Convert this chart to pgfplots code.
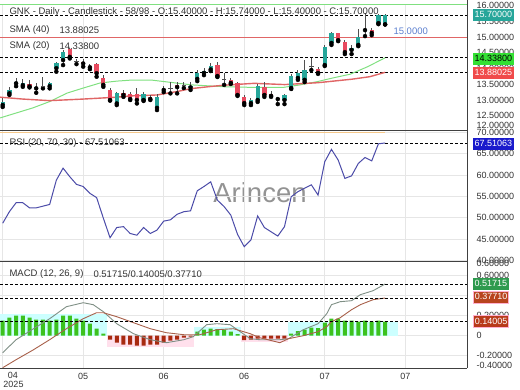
\documentclass[border=0pt]{standalone}
\usepackage{pgfplots}
\usepackage{pgfplotstable}
\pgfplotsset{compat=1.18}
\usepackage{fontspec}
\setmainfont{Liberation Sans}

\definecolor{upcol}{HTML}{26A69A}
\definecolor{dncol}{HTML}{E84A5F}
\definecolor{wickcol}{HTML}{505050}
\definecolor{sma40c}{HTML}{E06666}
\definecolor{sma20c}{HTML}{80E080}
\definecolor{labc}{HTML}{333333}
\definecolor{gridc}{HTML}{E6E6E6}
\definecolor{sepc}{HTML}{404040}
\definecolor{rsic}{HTML}{4B4BA8}
\definecolor{rsibadge}{HTML}{1A1ACC}
\definecolor{orangec}{HTML}{F5C88A}
\definecolor{macdc}{HTML}{7F8F85}
\definecolor{sigc}{HTML}{A8604A}
\definecolor{hgreen}{HTML}{3CC21E}
\definecolor{hred}{HTML}{A82A10}
\definecolor{cyanbg}{HTML}{CCFFFF}
\definecolor{pinkbg}{HTML}{FFE0EC}
\definecolor{bluetxt}{HTML}{5B7FCF}
\definecolor{badgegreen}{HTML}{33E033}
\definecolor{badgered}{HTML}{F04A4A}
\definecolor{mbgreen}{HTML}{2E9A4E}
\definecolor{mbbrown}{HTML}{B8441E}
\definecolor{mbred}{HTML}{B83A1A}
\definecolor{mbpink}{HTML}{FFB0D0}

\pgfplotstableread{
x o h l c
0 12.84 13.06 12.78 12.95
1 13.21 13.42 13.16 13.32
2 13.53 13.69 13.44 13.58
3 13.47 13.66 13.42 13.55
5 13.37 13.53 13.23 13.42
7 13.44 13.58 13.37 13.53
8 14.01 14.22 13.90 14.17
9 14.27 14.59 14.11 14.53
17 12.89 13.26 12.84 13.21
21 13.00 13.25 12.97 13.19
23 12.75 13.19 12.68 13.10
28 13.40 13.57 13.32 13.44
29 13.67 13.95 13.60 13.86
30 13.86 14.02 13.79 13.92
31 13.97 14.17 13.92 14.08
37 12.90 13.06 12.84 13.00
38 13.00 13.51 12.94 13.44
42 13.00 13.19 12.87 13.16
43 13.38 13.83 13.35 13.76
44 13.70 13.95 13.64 13.86
45 13.64 14.27 13.57 13.95
48 14.11 14.75 14.08 14.68
49 14.81 15.16 14.75 15.13
52 14.59 14.75 14.46 14.65
53 14.75 15.25 14.71 15.00
54 15.22 15.76 15.03 15.25
56 15.44 15.73 15.41 15.70
57 15.40 15.74 15.40 15.70
}\uptab

\pgfplotstableread{
x o h l c
4 13.50 13.64 13.40 13.43
10 14.61 14.64 14.32 14.37
12 14.22 14.29 14.06 14.16
13 14.08 14.14 13.98 14.04
14 14.14 14.17 13.74 13.85
15 13.69 13.79 13.42 13.48
16 13.32 13.37 12.98 13.00
18 13.21 13.32 13.10 13.16
19 13.19 13.25 13.00 13.03
20 13.19 13.37 12.89 13.00
22 13.10 13.16 13.00 13.03
24 13.35 13.44 13.25 13.32
26 13.48 13.58 13.21 13.41
32 14.11 14.21 13.73 13.76
34 13.64 13.70 13.51 13.54
35 13.54 13.57 13.13 13.16
36 13.10 13.16 12.84 12.90
39 13.41 13.57 13.10 13.16
40 13.19 13.29 13.10 13.13
41 13.06 13.10 12.87 13.03
47 13.98 14.05 13.83 13.86
50 15.13 15.14 14.87 14.90
51 14.84 14.90 14.46 14.52
55 15.22 15.29 15.06 15.13
}\dntab

\pgfplotstableread{
x o h l c
6 13.42 13.72 13.37 13.42
11 14.22 14.29 14.14 14.22
25 13.35 13.58 13.21 13.35
27 13.45 13.57 13.38 13.45
33 13.64 13.86 13.48 13.64
46 14.05 14.33 13.95 14.05
}\dojitab

\pgfplotstableread{
x v
-0.4 13.09
3 13.03
7 12.98
12 13.03
17 13.09
19 13.13
23 13.16
26 13.27
28 13.36
31 13.43
33 13.47
37.5 13.53
42 13.49
47 13.55
52 13.66
54.7 13.74
57 13.88
}\smaforty

\pgfplotstableread{
x v
-0.4 12.43
4.5 12.75
7 12.95
9.6 13.22
12 13.38
14.5 13.54
17 13.60
19 13.63
22.3 13.63
28.2 13.48
33.1 13.42
37.6 13.40
41.8 13.40
44.3 13.48
46.8 13.58
49.2 13.70
51.8 13.82
54.3 14.05
57 14.34
}\smatwenty

\pgfplotstableread{
x v
0 48.7
1 51.4
2 53.5
3 53.5
4 52.3
5 52.3
6 52.7
7 53.1
8 58.8
9 61.6
10 59.6
11 57.8
12 57.3
13 55.7
14 54.7
15 49.9
16 45.3
17 47.7
18 47.9
19 46.3
20 45.9
21 47.7
22 46.3
23 47.1
24 49.2
25 49.5
26 50.8
27 51.4
28 51.6
29 56.3
30 57.3
31 58.4
32 54.1
33 52.6
34 50.6
35 46.1
36 43.2
37 44.8
38 50.4
39 47.7
40 46.7
41 45.7
42 47.9
43 54.9
44 56.1
45 56.9
46 57.7
47 55.3
48 63.1
49 66.0
50 63.5
51 59.2
52 59.8
53 62.7
54 64.1
55 63.3
56 67.3
57 67.5
}\rsitab

\pgfplotstableread{
x v
0 -0.17
2 -0.04
4.6 0.07
7 0.17
9.5 0.29
12 0.33
13.5 0.31
15 0.24
17 0.12
19.5 0.02
22 -0.04
24.4 -0.07
27 -0.04
28.4 -0.01
30.4 0.11
31.9 0.12
33.9 0.11
35.4 0.04
36.9 -0.03
38.3 -0.04
41.3 -0.04
42.6 -0.03
44.8 0.06
47 0.12
48.3 0.22
49 0.31
50.3 0.34
52 0.35
53.3 0.41
55.2 0.45
57 0.517
}\macdtab

\pgfplotstableread{
x v
0 -0.32
2 -0.24
4.6 -0.14
7 -0.04
9.5 0.07
12 0.17
14 0.23
15 0.23
17 0.19
19.5 0.13
22 0.07
24.4 0.03
27 0.01
29.4 0.01
31.9 0.06
34.4 0.07
36.9 0.02
38.3 -0.02
41.3 -0.07
42.6 -0.03
44.8 0.00
47 0.04
48.3 0.09
49 0.14
50.3 0.18
52 0.26
53.3 0.31
55.2 0.36
57 0.377
}\sigtab

\pgfplotstableread{
x v
0 0.15
1 0.18
2 0.20
3 0.20
4 0.18
5 0.16
6 0.16
7 0.15
8 0.16
9 0.20
10 0.20
11 0.17
12 0.15
13 0.12
14 0.07
15 0.02
29 0.04
30 0.06
31 0.07
32 0.065
33 0.06
34 0.04
35 0.015
43 0.02
44 0.045
45 0.06
46 0.08
47 0.075
48 0.13
49 0.17
50 0.17
51 0.15
52 0.15
53 0.14
54 0.15
55 0.14
56 0.15
57 0.14
}\histpos

\pgfplotstableread{
x v
16 -0.04
17 -0.07
18 -0.09
19 -0.09
20 -0.10
21 -0.10
22 -0.09
23 -0.09
24 -0.07
25 -0.05
26 -0.04
27 -0.02
28 -0.01
36 -0.045
37 -0.04
38 -0.03
39 -0.03
40 -0.03
41 -0.03
42 -0.03
}\histneg

\pgfplotsset{
  panel/.style={
    scale only axis, width=467pt,
    xmin=-0.4, xmax=69.2,
    axis line style={draw=none},
    major tick length=0pt,
    yticklabel pos=right,
    xtick={0,12,24,36,48,60},
    xmajorgrids,
    grid style={color=gridc, line width=0.6pt},
    tick label style={font=\fontsize{9}{10}\selectfont, text=labc},
    /pgf/number format/assume math mode=true,
    yticklabel style={anchor=west, xshift=6pt},
  },
  dashln/.style={black, line width=0.8pt, dash pattern=on 2.5pt off 2.5pt},
  wick/.style={only marks, mark=none, forget plot,
    error bars/.cd, y dir=plus, y explicit, error mark=none,
    error bar style={line width=0.9pt, color=wickcol}},
  body/.style={only marks, mark=none, forget plot,
    error bars/.cd, y dir=plus, y explicit, error mark=none,
    error bar style={line width=4.3pt, color=#1}},
}

\tikzset{badge/.style={anchor=west, inner xsep=1.6pt, inner ysep=1.2pt,
  text height=7pt, text depth=2pt, font=\fontsize{9}{10}\selectfont}}

\begin{document}
\begin{tikzpicture}
\path[use as bounding box] (0pt,0pt) rectangle (520pt,-390pt);

% ---------------- price panel
\begin{axis}[panel, at={(0pt,-4pt)}, anchor=north west, height=126.7pt,
  ymin=12.025, ymax=16.05,
  ytick={12.5,13,13.5,14,14.5,15,15.5,16},
  yticklabels={12.50000,13.00000,13.50000,14.00000,14.50000,15.00000,15.50000,16.00000},
  extra y ticks={12.2}, extra y tick labels={12.00000},
  xticklabels=\empty]
\addplot[sma40c, line width=1pt] coordinates {(-0.4,15) (69.2,15)};
\addplot[dashln] coordinates {(-0.4,15.7) (69.2,15.7)};
\addplot[dashln] coordinates {(-0.4,14.338) (69.2,14.338)};
\addplot[dashln] coordinates {(-0.4,13.88025) (69.2,13.88025)};
\addplot[sma20c, line width=1pt] table[x=x,y=v] {\smatwenty};
\addplot[sma40c, line width=1.4pt] table[x=x,y=v] {\smaforty};
\addplot[wick] table[x=x, y=l, y error expr=\thisrow{h}-\thisrow{l}] {\uptab};
\addplot[wick] table[x=x, y=l, y error expr=\thisrow{h}-\thisrow{l}] {\dntab};
\addplot[wick] table[x=x, y=l, y error expr=\thisrow{h}-\thisrow{l}] {\dojitab};
\addplot[body=upcol] table[x=x, y=o, y error expr=\thisrow{c}-\thisrow{o}] {\uptab};
\addplot[body=dncol] table[x=x, y=c, y error expr=\thisrow{o}-\thisrow{c}] {\dntab};
\addplot[only marks, mark=-, mark size=2.2pt, mark options={line width=1pt, color=wickcol}] table[x=x, y=o] {\dojitab};
\end{axis}

% watermark
\node[anchor=base, text=black!50, opacity=0.85, font=\fontsize{27.5}{30}\selectfont] at (260pt,-203pt) {Arincen};

% ---------------- RSI panel
\begin{axis}[panel, at={(0pt,-130.7pt)}, anchor=north west, height=130.8pt,
  ymin=39.74, ymax=70.37,
  ytick={40,45,50,55,60,65,70},
  yticklabels={40.00000,45.00000,50.00000,55.00000,60.00000,65.00000,70.00000},
  ymajorgrids,
  xticklabels=\empty]
\addplot[orangec, line width=1pt] coordinates {(-0.4,70) (57,70)};
\addplot[dashln] coordinates {(-0.4,67.51063) (69.2,67.51063)};
\addplot[rsic, line width=1pt] table[x=x,y=v] {\rsitab};
\end{axis}

% ---------------- MACD panel
\begin{axis}[panel, at={(0pt,-262pt)}, anchor=north west, height=106.5pt,
  ymin=-0.328, ymax=0.737,
  ytick={-0.2,0,0.2,0.4,0.6},
  yticklabels={-0.20000,0,0.20000,0.40000,0.60000},
  extra y ticks={-0.30,0.727}, extra y tick labels={-0.40000,0.60000},
  extra y tick style={grid=none},
  ymajorgrids,
  xticklabels={,05,06,06,07,07},
  xticklabel style={yshift=-1pt}]
\addplot[fill=cyanbg, draw=none] coordinates {(-0.4,0) (-0.4,0.22) (15.5,0.22) (15.5,0)} -- cycle;
\addplot[fill=pinkbg, draw=none] coordinates {(15.5,0) (15.5,-0.11) (28.5,-0.11) (28.5,0)} -- cycle;
\addplot[fill=cyanbg, draw=none] coordinates {(28.5,0) (28.5,0.09) (35.5,0.09) (35.5,0)} -- cycle;
\addplot[fill=pinkbg, draw=none] coordinates {(35.5,0) (35.5,-0.065) (42.5,-0.065) (42.5,0)} -- cycle;
\addplot[fill=cyanbg, draw=none] coordinates {(42.5,0) (42.5,0.14) (58.9,0.14) (58.9,0)} -- cycle;
\addplot[ybar, bar width=4pt, bar shift=0pt, fill=hgreen, draw=none] table[x=x,y=v] {\histpos};
\addplot[ybar, bar width=4pt, bar shift=0pt, fill=hred, draw=none] table[x=x,y=v] {\histneg};
\addplot[macdc, line width=0.9pt] table[x=x,y=v] {\macdtab};
\addplot[sigc, line width=0.9pt] table[x=x,y=v] {\sigtab};
\addplot[dashln] coordinates {(-0.4,0.51715) (69.2,0.51715)};
\addplot[dashln] coordinates {(-0.4,0.37710) (69.2,0.37710)};
\addplot[dashln] coordinates {(-0.4,0.14005) (69.2,0.14005)};
\end{axis}

% frame lines
\draw[sma20c, line width=1pt] (0pt,-4.3pt) -- (467pt,-4.3pt);
\draw[sepc, line width=1pt] (0pt,-130.7pt) -- (467pt,-130.7pt);
\draw[sepc, line width=1pt] (0pt,-262pt) -- (467pt,-262pt);
\draw[sepc, line width=1pt] (0pt,-368.5pt) -- (467pt,-368.5pt);
\draw[sepc, line width=1pt] (467pt,0pt) -- (467pt,-368.5pt);

% texts
\node[anchor=west, text=labc, font=\fontsize{9.5}{11}\selectfont] at (6pt,-12.5pt)
  {GNK - Daily - Candlestick - 58/98 - O:15.40000 - H:15.74000 - L:15.40000 - C:15.70000};
\node[anchor=west, text=labc, font=\fontsize{9.5}{11}\selectfont] at (6pt,-30pt) {SMA (40)};
\node[anchor=west, text=labc, font=\fontsize{9.5}{11}\selectfont] at (56pt,-30pt) {13.88025};
\node[anchor=west, text=labc, font=\fontsize{9.5}{11}\selectfont] at (6pt,-46.5pt) {SMA (20)};
\node[anchor=west, text=labc, font=\fontsize{9.5}{11}\selectfont] at (56pt,-46.5pt) {14.33800};
\node[anchor=west, text=bluetxt, font=\fontsize{9.5}{11}\selectfont] at (390pt,-31.5pt) {15.0000};
\node[anchor=west, text=labc, font=\fontsize{9.5}{11}\selectfont] at (6pt,-143pt) {RSI (20, 70, 30) - 67.51063};
\node[anchor=west, text=labc, font=\fontsize{9.5}{11}\selectfont] at (6pt,-274pt) {MACD (12, 26, 9)};
\node[anchor=west, text=labc, font=\fontsize{9.5}{11}\selectfont] at (90pt,-274pt) {0.51715/0.14005/0.37710};
\node[text=labc, font=\fontsize{9}{10}\selectfont] at (13pt,-375pt) {04};
\node[text=labc, font=\fontsize{9}{10}\selectfont] at (13.5pt,-384pt) {2025};

% badges
\node[badge, fill=upcol, text=white] at (472.7pt,-15pt) {15.70000};
\node[badge, fill=badgegreen, text=black] at (472.7pt,-59pt) {14.33800};
\node[badge, fill=badgered, text=white] at (472.7pt,-73pt) {13.88025};
\node[badge, fill=rsibadge, text=white] at (472.7pt,-144pt) {67.51063};
\node[badge, fill=mbgreen, text=white] at (472.7pt,-284pt) {0.51715};
\node[badge, fill=mbbrown, text=white, draw=mbpink, line width=1pt] at (472.7pt,-297.5pt) {0.37710};
\node[badge, fill=mbred, text=white, draw=mbpink, line width=1pt] at (472.7pt,-321.7pt) {0.14005};
\end{tikzpicture}
\end{document}
